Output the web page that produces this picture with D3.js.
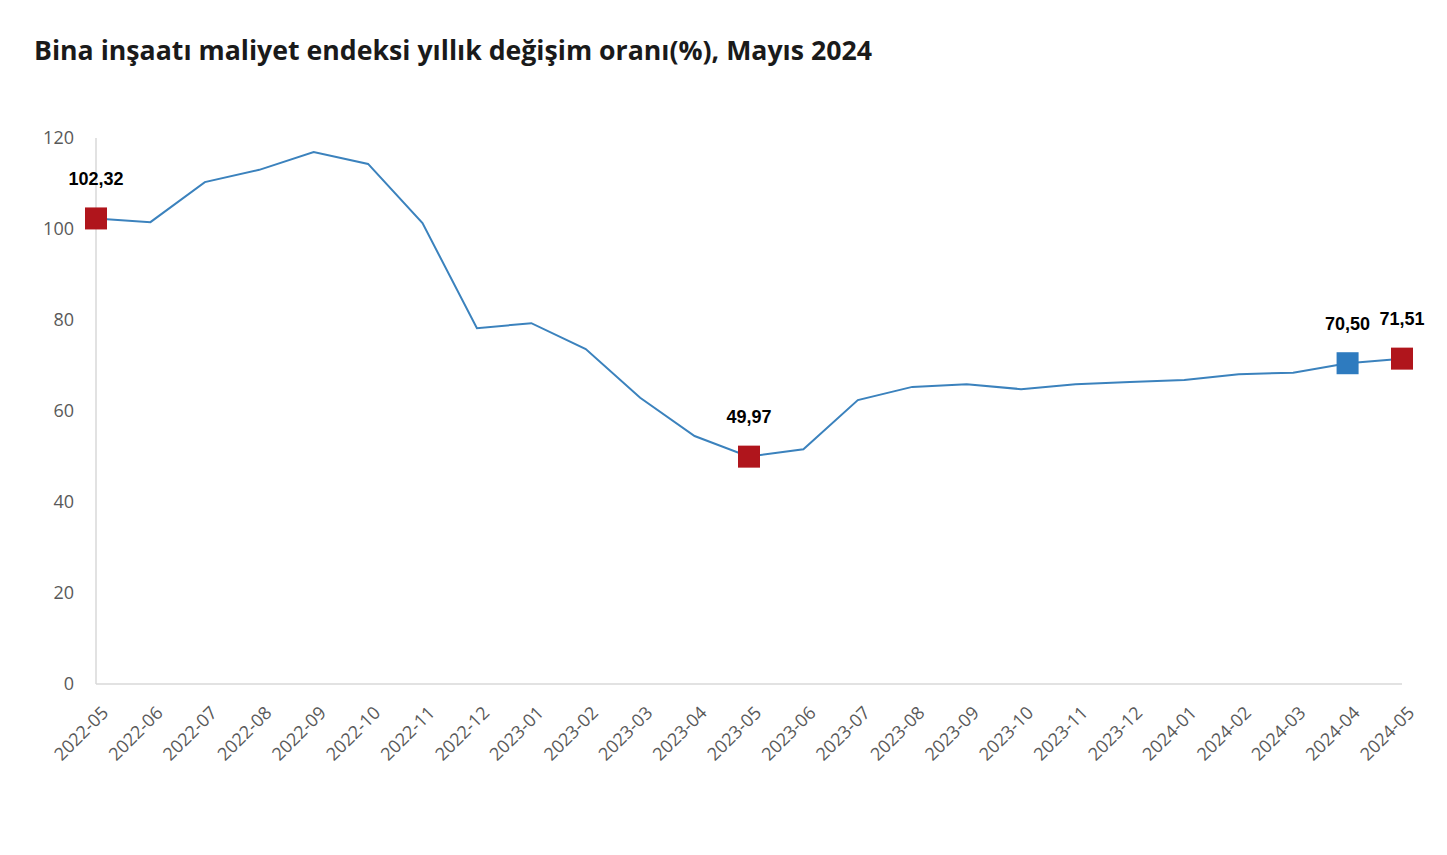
<!DOCTYPE html>
<html><head><meta charset="utf-8">
<script src="https://cdn.jsdelivr.net/npm/d3@7"></script>
<style>body{margin:0;background:#fff;} svg{display:block;}</style>
</head><body>
<svg id="c" width="1447" height="855"></svg>
<script>
const title = "Bina inşaatı maliyet endeksi yıllık değişim oranı(%), Mayıs 2024";
const categories = ["2022-05","2022-06","2022-07","2022-08","2022-09","2022-10","2022-11","2022-12",
  "2023-01","2023-02","2023-03","2023-04","2023-05","2023-06","2023-07","2023-08","2023-09","2023-10",
  "2023-11","2023-12","2024-01","2024-02","2024-03","2024-04","2024-05"];
const values = [102.32,101.5,110.3,113.0,116.9,114.3,101.3,78.2,79.3,73.6,62.9,54.5,49.97,51.6,62.4,65.3,65.9,64.8,65.9,66.4,66.8,68.1,68.4,70.50,71.51];
const yTicks = [0,20,40,60,80,100,120];
const highlights = [
  {cat:"2022-05", label:"102,32", color:"#b0151c"},
  {cat:"2023-05", label:"49,97", color:"#b0151c"},
  {cat:"2024-04", label:"70,50", color:"#2e7bbf"},
  {cat:"2024-05", label:"71,51", color:"#b0151c"}
];

const svg = d3.select("#c");
const x = d3.scalePoint().domain(categories).range([96, 1402]);
const y = d3.scaleLinear().domain([0,120]).range([684, 138]);

svg.append("text").attr("x",34).attr("y",60)
  .attr("font-family","'Open Sans', sans-serif").attr("font-weight",700).attr("font-size",26.5)
  .attr("textLength",838).attr("lengthAdjust","spacingAndGlyphs")
  .attr("fill","#1a1a1a").text(title);

svg.append("line").attr("x1",96).attr("x2",96).attr("y1",y(120)).attr("y2",y(0)).attr("stroke","#d9d9d9").attr("stroke-width",1.5);
svg.append("line").attr("x1",96).attr("x2",1402).attr("y1",y(0)).attr("y2",y(0)).attr("stroke","#d9d9d9").attr("stroke-width",1.5);

const yAxis = svg.append("g").attr("transform","translate(96,0)")
  .call(d3.axisLeft(y).tickValues(yTicks).tickSize(0).tickPadding(22));
yAxis.select(".domain").remove();
yAxis.selectAll("text").attr("font-family","'Open Sans', sans-serif").attr("font-size",18).attr("fill","#595959");

const xAxis = svg.append("g").attr("transform",`translate(0,${y(0)})`)
  .call(d3.axisBottom(x).tickSize(0));
xAxis.select(".domain").remove();
xAxis.selectAll("text")
  .attr("font-family","'Open Sans', sans-serif").attr("font-size",18).attr("fill","#595959")
  .attr("text-anchor","end").attr("dy",null).attr("y",0)
  .attr("transform","translate(13,30) rotate(-45)");

const line = d3.line().x((d,i)=>x(categories[i])).y(d=>y(d));
svg.append("path").datum(values).attr("d",line).attr("fill","none")
  .attr("stroke","#3b82bd").attr("stroke-width",2);

const s = 22;
highlights.forEach(h=>{
  const i = categories.indexOf(h.cat);
  const cx = x(h.cat), cy = y(values[i]);
  svg.append("rect").attr("x",cx-s/2).attr("y",cy-s/2).attr("width",s).attr("height",s).attr("fill",h.color);
  svg.append("text").attr("x",cx).attr("y",cy-40).attr("dy","0.35em").attr("text-anchor","middle")
    .attr("font-family","'Liberation Sans', Arial, sans-serif").attr("font-weight",700).attr("font-size",18)
    .attr("fill","#000").text(h.label);
});
</script>
</body></html>
